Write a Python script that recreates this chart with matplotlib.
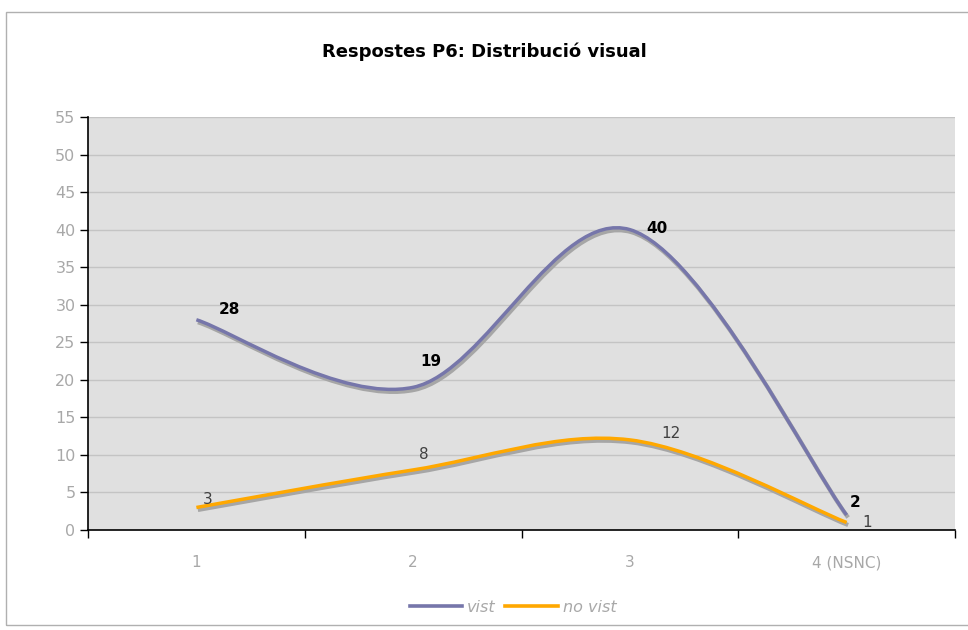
import matplotlib
matplotlib.use("Agg")
import matplotlib.pyplot as plt
from matplotlib.path import Path
from matplotlib.patches import PathPatch, Rectangle
import matplotlib.transforms as mtransforms
from matplotlib.lines import Line2D

categories = ["1", "2", "3", "4 (NSNC)"]
vist = [28, 19, 40, 2]
no_vist = [3, 8, 12, 1]
series_names = ["vist", "no vist"]
title = "Respostes P6: Distribució visual"

colors = ["#7676aa", "#ffa800"]
label_offsets = [
    [(33, 10), (18, 26), (27, 1), (9, 12)],
    [(11, 8), (11, 15), (41, 6), (21, 0)],
]

fig = plt.figure(figsize=(9.68, 6.3), dpi=100)
fig.patches.append(Rectangle((6 / 968, 5 / 630), 1.0, 613 / 630, transform=fig.transFigure,
                             fill=False, edgecolor="#b0b0b0", linewidth=1.0))
ax = fig.add_axes([88 / 968, 100 / 630, 867 / 968, 413 / 630])
ax.set_facecolor("#e0e0e0")
ax.set_xlim(0.5, 4.5)
ax.set_ylim(0, 55)
ax.set_yticks(range(0, 56, 5))
ax.set_xticks([1, 2, 3, 4])
ax.set_xticklabels(categories)
ax.set_xticks([0.5, 1.5, 2.5, 3.5, 4.5], minor=True)
ax.tick_params(axis="x", which="major", length=0, pad=18, colors="#a8a8a8", labelsize=11)
ax.tick_params(axis="x", which="minor", length=6, width=1, color="black", direction="out")
ax.tick_params(axis="y", length=6, width=1, color="black", labelcolor="#a8a8a8", labelsize=11.5, pad=3)
ax.yaxis.grid(True, color="#c4c4c4", linewidth=1)
ax.set_axisbelow(True)
for s in ["top", "right"]:
    ax.spines[s].set_visible(False)
ax.spines["left"].set_linewidth(1.2)
ax.spines["bottom"].set_linewidth(1.2)


def smooth_path(xs, ys):
    pts = list(zip(xs, ys))
    n = len(pts)
    verts = [pts[0]]
    codes = [Path.MOVETO]
    for i in range(n - 1):
        p0 = pts[i - 1] if i > 0 else pts[i]
        p1 = pts[i]
        p2 = pts[i + 1]
        p3 = pts[i + 2] if i + 2 < n else pts[i + 1]
        c1 = (p1[0] + (p2[0] - p0[0]) / 6, p1[1] + (p2[1] - p0[1]) / 6)
        c2 = (p2[0] - (p3[0] - p1[0]) / 6, p2[1] - (p3[1] - p1[1]) / 6)
        verts += [c1, c2, p2]
        codes += [Path.CURVE4] * 3
    return Path(verts, codes)


xs = [1, 2, 3, 4]
shadow = mtransforms.offset_copy(ax.transData, fig=fig, x=1.5, y=-2.5, units="dots")
for k, ys in enumerate([vist, no_vist]):
    path = smooth_path(xs, ys)
    ax.add_patch(PathPatch(path, fill=False, edgecolor="#a6a6a6", linewidth=3.0,
                           transform=shadow, capstyle="butt"))
    ax.add_patch(PathPatch(path, fill=False, edgecolor=colors[k], linewidth=2.5,
                           capstyle="butt"))
    for j, (x, y) in enumerate(zip(xs, ys)):
        dx, dy = label_offsets[k][j]
        ax.annotate(str(y), (x, y), xytext=(dx / 1.389, dy / 1.389), textcoords="offset points",
                    ha="center", va="center", fontsize=11,
                    fontweight="bold" if k == 0 else "normal",
                    color="black" if k == 0 else "#404040")

fig.text(0.5, 1 - 52 / 630, title, ha="center", va="center", fontsize=13, fontweight="bold")

handles = [Line2D([], [], color=c, linewidth=2.6) for c in colors]
fig.legend(handles, series_names, loc="center", bbox_to_anchor=(0.53, 1 - 607 / 630),
           ncol=2, frameon=False, handlelength=3.3, handletextpad=0.3, columnspacing=0.6,
           prop={"style": "italic", "size": 11.5}, labelcolor="#a8a8a8")

fig.savefig("out.png", dpi=100)
